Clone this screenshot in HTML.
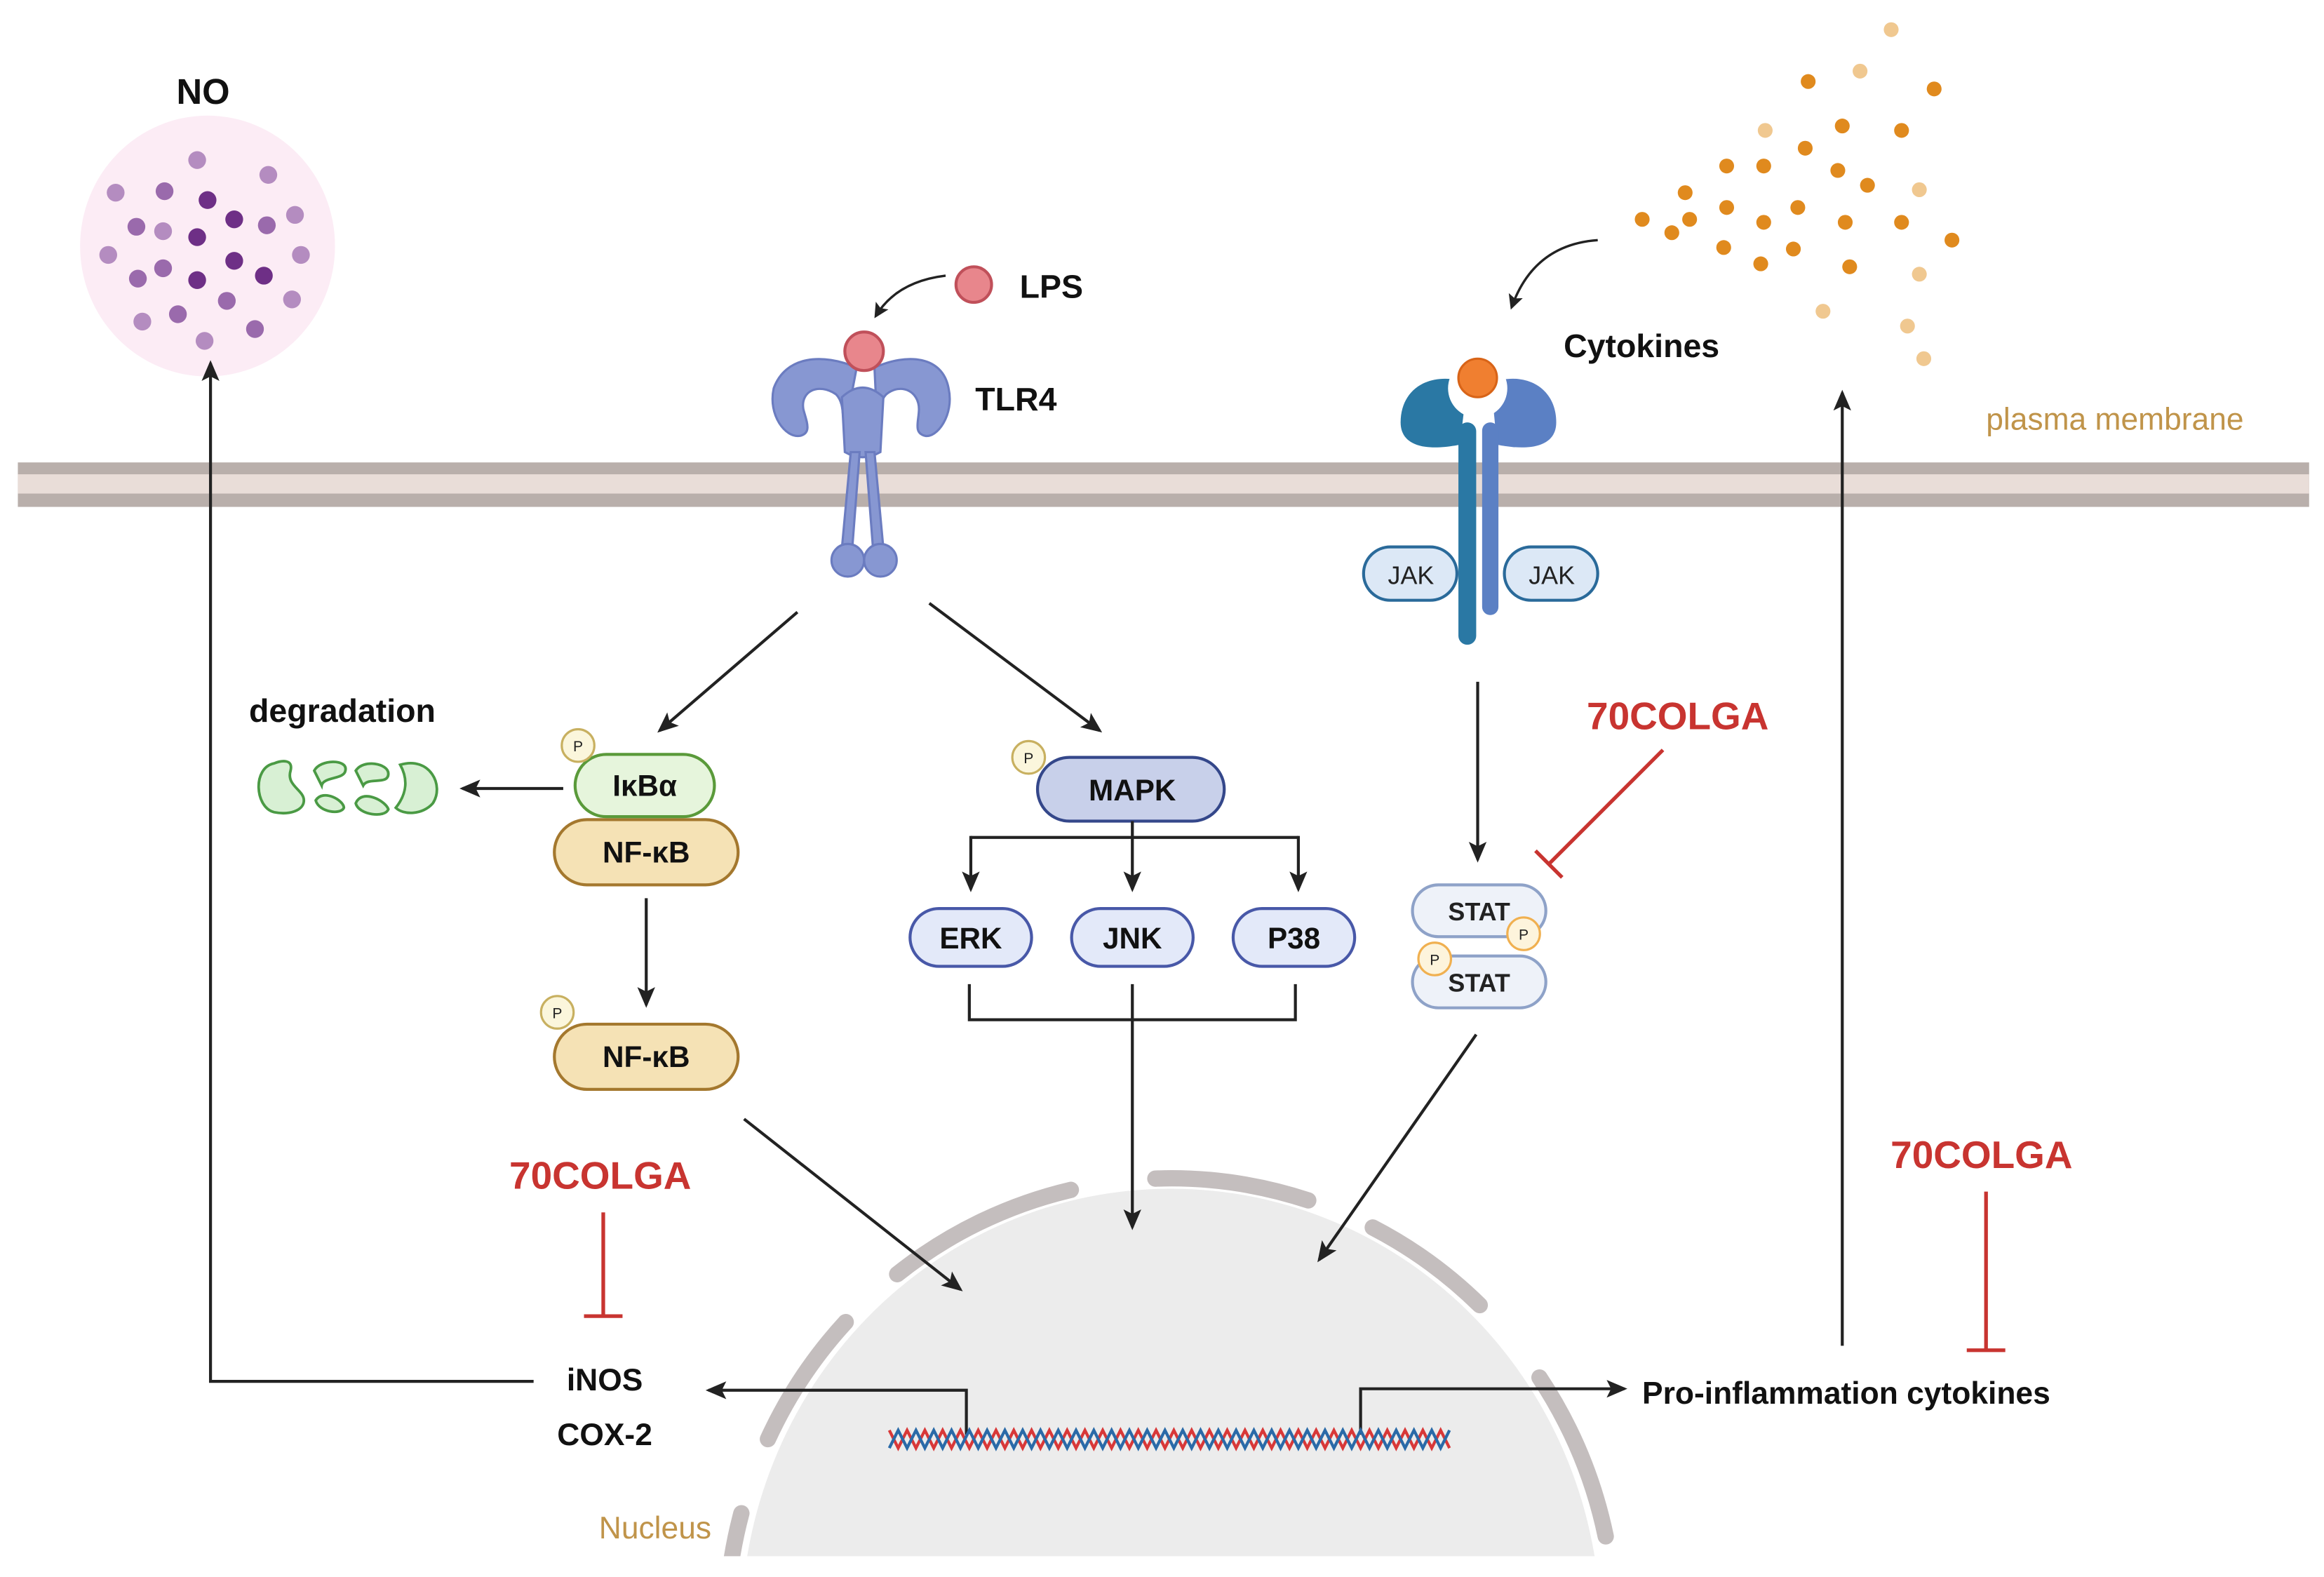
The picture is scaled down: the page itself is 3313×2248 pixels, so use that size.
<!DOCTYPE html>
<html><head><meta charset="utf-8"><style>
html,body{margin:0;padding:0;background:#fff;width:3313px;height:2248px;overflow:hidden;}
svg{display:block;position:absolute;left:0;top:0;}
text{font-family:"Liberation Sans",sans-serif;}
</style></head><body>
<svg width="3313" height="2248" viewBox="0 0 1568 1064" xmlns="http://www.w3.org/2000/svg" overflow="hidden">
<defs>
<marker id="ah" markerWidth="10" markerHeight="10" refX="8" refY="5" orient="auto" markerUnits="userSpaceOnUse"><path d="M0,0 L10,5 L0,10 L2,5 Z" fill="#222"/></marker>
<marker id="ahs" markerWidth="14" markerHeight="14" refX="12" refY="7" orient="auto" markerUnits="userSpaceOnUse"><path d="M0,1 L14,7 L0,13 L3,7 Z" fill="#222"/></marker>
<clipPath id="nc"><rect x="0" y="0" width="1568" height="1050"/></clipPath>
</defs>

<!-- nucleus -->
<g clip-path="url(#nc)">
<ellipse cx="790" cy="1100" rx="290" ry="298" fill="#ececec"/>
<g fill="none" stroke="#c4bebe" stroke-width="11" stroke-linecap="round">
<path d="M722.5,802.8 A300,305 0 0 0 605.3,859.7"/>
<path d="M570.6,892 A300,305 0 0 0 518.1,971"/>
<path d="M500.2,1021 A300,305 0 0 0 490,1089"/>
<path d="M779.5,795.2 A300,305 0 0 1 882.7,809.9"/>
<path d="M926.2,828.2 A300,305 0 0 1 998.4,880.6"/>
<path d="M1038.7,929.4 A300,305 0 0 1 1083.4,1036.6"/>
</g>
</g>

<!-- membrane -->
<rect x="12" y="312" width="1546" height="30" fill="#b9afab"/>
<rect x="12" y="320" width="1546" height="13" fill="#e9ddd8"/>
<text x="1340" y="290" font-size="21" fill="#c0944a">plasma membrane</text>

<!-- NO cloud -->
<text x="137" y="70" font-size="24" font-weight="bold" text-anchor="middle" fill="#111">NO</text>
<ellipse cx="140" cy="166" rx="86" ry="88" fill="#fcecf5"/>
<g fill="#b48cc0">
<circle cx="133" cy="108" r="6"/><circle cx="181" cy="118" r="6"/><circle cx="78" cy="130" r="6"/><circle cx="199" cy="145" r="6"/><circle cx="110" cy="156" r="6"/><circle cx="73" cy="172" r="6"/><circle cx="203" cy="172" r="6"/><circle cx="96" cy="217" r="6"/><circle cx="138" cy="230" r="6"/><circle cx="197" cy="202" r="6"/>
</g>
<g fill="#9a6aac">
<circle cx="111" cy="129" r="6"/><circle cx="92" cy="153" r="6"/><circle cx="180" cy="152" r="6"/><circle cx="110" cy="181" r="6"/><circle cx="93" cy="188" r="6"/><circle cx="153" cy="203" r="6"/><circle cx="120" cy="212" r="6"/><circle cx="172" cy="222" r="6"/>
</g>
<g fill="#6e2f86">
<circle cx="140" cy="135" r="6"/><circle cx="158" cy="148" r="6"/><circle cx="133" cy="160" r="6"/><circle cx="158" cy="176" r="6"/><circle cx="178" cy="186" r="6"/><circle cx="133" cy="189" r="6"/>
</g>

<!-- cytokine dots -->
<g fill="#e08a1e">
<circle cx="1220" cy="55" r="5"/><circle cx="1305" cy="60" r="5"/><circle cx="1243" cy="85" r="5"/><circle cx="1283" cy="88" r="5"/><circle cx="1218" cy="100" r="5"/><circle cx="1165" cy="112" r="5"/><circle cx="1190" cy="112" r="5"/><circle cx="1240" cy="115" r="5"/><circle cx="1260" cy="125" r="5"/><circle cx="1137" cy="130" r="5"/><circle cx="1165" cy="140" r="5"/><circle cx="1213" cy="140" r="5"/><circle cx="1108" cy="148" r="5"/><circle cx="1140" cy="148" r="5"/><circle cx="1190" cy="150" r="5"/><circle cx="1245" cy="150" r="5"/><circle cx="1283" cy="150" r="5"/><circle cx="1128" cy="157" r="5"/><circle cx="1317" cy="162" r="5"/><circle cx="1163" cy="167" r="5"/><circle cx="1210" cy="168" r="5"/><circle cx="1188" cy="178" r="5"/><circle cx="1248" cy="180" r="5"/>
</g>
<g fill="#f0c890">
<circle cx="1276" cy="20" r="5"/><circle cx="1255" cy="48" r="5"/><circle cx="1191" cy="88" r="5"/><circle cx="1295" cy="128" r="5"/><circle cx="1295" cy="185" r="5"/><circle cx="1230" cy="210" r="5"/><circle cx="1287" cy="220" r="5"/><circle cx="1298" cy="242" r="5"/>
</g>

<!-- LPS -->
<circle cx="657" cy="192" r="12" fill="#e8868c" stroke="#c0505a" stroke-width="2"/>
<text x="688" y="201" font-size="22" font-weight="bold" fill="#111">LPS</text>
<path d="M638,186 Q605,190 591,213" fill="none" stroke="#222" stroke-width="1.6" marker-end="url(#ah)"/>

<!-- TLR4 -->
<g fill="#8797d2" stroke="#6b7cc0" stroke-width="1.5">
<path d="M578,248 C555,238 530,240 522,262 C518,280 530,296 540,294 C548,292 544,284 542,276 C540,264 552,258 564,266 C570,272 568,282 570,290 Z"/>
<path d="M590,248 C612,238 636,240 640,262 C644,280 632,296 624,294 C616,292 620,284 620,276 C620,264 608,258 598,266 C592,272 594,282 592,290 Z"/>
<path d="M568,268 Q582,255 596,268 L594,305 Q582,312 570,305 Z"/>
<path d="M574,305 L568,370 L575,370 L580,305 Z"/>
<path d="M584,305 L589,370 L596,370 L590,305 Z"/>
<circle cx="572" cy="378" r="11"/><circle cx="594" cy="378" r="11"/>
</g>
<circle cx="583" cy="237" r="13" fill="#e8868c" stroke="#c0505a" stroke-width="2"/>
<text x="658" y="277" font-size="22" font-weight="bold" fill="#111">TLR4</text>

<!-- Cytokine receptor -->
<path d="M1078,162 Q1035,165 1020,207" fill="none" stroke="#222" stroke-width="1.6" marker-end="url(#ah)"/>
<text x="1055" y="241" font-size="22" font-weight="bold" fill="#111">Cytokines</text>
<path d="M990,258 C965,250 945,262 945,285 C945,300 960,305 985,300 Z" fill="#2a78a4"/>
<rect x="984" y="285" width="12" height="150" rx="6" fill="#2a78a4"/>
<path d="M1006,258 C1030,250 1050,262 1050,285 C1050,300 1035,305 1010,300 Z" fill="#5b80c4"/>
<rect x="1000" y="285" width="11" height="130" rx="5.5" fill="#5b80c4"/>
<circle cx="997" cy="262" r="20" fill="#fff"/>
<circle cx="997" cy="255" r="13" fill="#f07f30" stroke="#d86418" stroke-width="1.5"/>
<rect x="920" y="369" width="63" height="36" rx="18" fill="#dce8f6" stroke="#2a6a9a" stroke-width="2"/>
<text x="952" y="394" font-size="17" text-anchor="middle" fill="#222">JAK</text>
<rect x="1015" y="369" width="63" height="36" rx="18" fill="#dce8f6" stroke="#2a6a9a" stroke-width="2"/>
<text x="1047" y="394" font-size="17" text-anchor="middle" fill="#222">JAK</text>

<!-- arrows from TLR4 -->
<line x1="538" y1="413" x2="445" y2="493" stroke="#222" stroke-width="2" marker-end="url(#ahs)"/>
<line x1="627" y1="407" x2="742" y2="493" stroke="#222" stroke-width="2" marker-end="url(#ahs)"/>

<!-- degradation -->
<text x="168" y="487" font-size="22" font-weight="bold" fill="#111">degradation</text>
<g fill="#d8f0d4" stroke="#4a9a44" stroke-width="1.8">
<path d="M185,515 C170,518 172,545 185,548 C195,550 205,547 205,540 C205,533 193,530 196,520 C198,512 190,513 185,515 Z"/>
<path d="M212,520 C216,512 235,512 233,520 C232,526 218,524 217,530 Z"/>
<path d="M213,540 C218,532 232,540 232,545 C230,550 215,548 213,540 Z"/>
<path d="M240,520 C245,512 262,515 262,522 C262,530 248,524 245,530 Z"/>
<path d="M240,542 C244,532 260,540 262,546 C260,552 242,550 240,542 Z"/>
<path d="M270,516 C290,510 300,530 292,542 C285,550 272,550 267,545 C275,535 275,525 270,516 Z"/>
</g>
<line x1="380" y1="532" x2="312" y2="532" stroke="#222" stroke-width="2" marker-end="url(#ahs)"/>

<!-- IkBa / NF-kB -->
<rect x="374" y="553" width="124" height="44" rx="22" fill="#f5e2b5" stroke="#a4782e" stroke-width="2"/>
<text x="436" y="582" font-size="20" font-weight="bold" text-anchor="middle" fill="#111">NF-κB</text>
<rect x="388" y="509" width="94" height="42" rx="21" fill="#e6f5dc" stroke="#5a9a3a" stroke-width="2"/>
<text x="435" y="537" font-size="20" font-weight="bold" text-anchor="middle" fill="#111">IκBα</text>
<circle cx="390" cy="503" r="11" fill="#fbf6dc" stroke="#c8b060" stroke-width="1.5"/>
<text x="390" y="507" font-size="10" text-anchor="middle" fill="#222">P</text>
<line x1="436" y1="606" x2="436" y2="678" stroke="#222" stroke-width="2" marker-end="url(#ahs)"/>
<rect x="374" y="691" width="124" height="44" rx="22" fill="#f5e2b5" stroke="#a4782e" stroke-width="2"/>
<text x="436" y="720" font-size="20" font-weight="bold" text-anchor="middle" fill="#111">NF-κB</text>
<circle cx="376" cy="683" r="11" fill="#fbf6dc" stroke="#c8b060" stroke-width="1.5"/>
<text x="376" y="687" font-size="10" text-anchor="middle" fill="#222">P</text>

<!-- MAPK -->
<rect x="700" y="511" width="126" height="43" rx="21.5" fill="#c8d0ea" stroke="#34478a" stroke-width="2"/>
<text x="764" y="540" font-size="20" font-weight="bold" text-anchor="middle" fill="#111">MAPK</text>
<circle cx="694" cy="511" r="11" fill="#fbf6dc" stroke="#c8b060" stroke-width="1.5"/>
<text x="694" y="515" font-size="10" text-anchor="middle" fill="#222">P</text>
<path d="M764,554 L764,565 M655,565 L876,565" stroke="#222" stroke-width="2" fill="none"/>
<line x1="655" y1="564" x2="655" y2="600" stroke="#222" stroke-width="2" marker-end="url(#ahs)"/>
<line x1="764" y1="564" x2="764" y2="600" stroke="#222" stroke-width="2" marker-end="url(#ahs)"/>
<line x1="876" y1="564" x2="876" y2="600" stroke="#222" stroke-width="2" marker-end="url(#ahs)"/>
<g fill="#e3e9f9" stroke="#4858a8" stroke-width="2">
<rect x="614" y="613" width="82" height="39" rx="19.5"/>
<rect x="723" y="613" width="82" height="39" rx="19.5"/>
<rect x="832" y="613" width="82" height="39" rx="19.5"/>
</g>
<g font-size="20" font-weight="bold" text-anchor="middle" fill="#111">
<text x="655" y="640">ERK</text><text x="764" y="640">JNK</text><text x="873" y="640">P38</text>
</g>
<path d="M654,664 L654,688 L874,688 L874,664" stroke="#222" stroke-width="2" fill="none"/>
<line x1="764" y1="664" x2="764" y2="828" stroke="#222" stroke-width="2" marker-end="url(#ahs)"/>

<!-- to nucleus arrows -->
<line x1="502" y1="755" x2="648" y2="870" stroke="#222" stroke-width="2" marker-end="url(#ahs)"/>
<line x1="996" y1="698" x2="890" y2="850" stroke="#222" stroke-width="2" marker-end="url(#ahs)"/>
<line x1="997" y1="460" x2="997" y2="580" stroke="#222" stroke-width="2" marker-end="url(#ahs)"/>

<!-- STAT -->
<rect x="953" y="597" width="90" height="35" rx="17.5" fill="#eef2f9" stroke="#8ea2c8" stroke-width="2"/>
<text x="998" y="621" font-size="17" font-weight="bold" text-anchor="middle" fill="#222">STAT</text>
<rect x="953" y="645" width="90" height="35" rx="17.5" fill="#eef2f9" stroke="#8ea2c8" stroke-width="2"/>
<text x="998" y="669" font-size="17" font-weight="bold" text-anchor="middle" fill="#222">STAT</text>
<circle cx="1028" cy="630" r="11" fill="#fdf4dc" stroke="#f0b050" stroke-width="1.5"/>
<text x="1028" y="634" font-size="10" text-anchor="middle" fill="#222">P</text>
<circle cx="968" cy="647" r="11" fill="#fdf4dc" stroke="#f0b050" stroke-width="1.5"/>
<text x="968" y="651" font-size="10" text-anchor="middle" fill="#222">P</text>

<!-- 70COLGA inhibitors -->
<g fill="#c83430" font-size="26" font-weight="bold" text-anchor="middle">
<text x="1132" y="492">70COLGA</text>
<text x="405" y="802">70COLGA</text>
<text x="1337" y="788">70COLGA</text>
</g>
<g stroke="#c83430" stroke-width="2.5" fill="none">
<path d="M1122,506 L1045,583 M1036,574 L1054,592"/>
<path d="M407,818 L407,888 M394,888 L420,888"/>
<path d="M1340,804 L1340,911 M1327,911 L1353,911"/>
</g>

<!-- outputs -->
<text x="408" y="938" font-size="21" font-weight="bold" text-anchor="middle" fill="#111">iNOS</text>
<text x="408" y="975" font-size="21" font-weight="bold" text-anchor="middle" fill="#111">COX-2</text>
<path d="M360,932 L142,932 L142,245" stroke="#222" stroke-width="2" fill="none" marker-end="url(#ahs)"/>
<path d="M652,968 L652,938 L478,938" stroke="#222" stroke-width="2" fill="none" marker-end="url(#ahs)"/>
<path d="M918,968 L918,937 L1096,937" stroke="#222" stroke-width="2" fill="none" marker-end="url(#ahs)"/>
<text x="1108" y="947" font-size="21" font-weight="bold" fill="#111">Pro-inflammation cytokines</text>
<line x1="1243" y1="908" x2="1243" y2="265" stroke="#222" stroke-width="2" marker-end="url(#ahs)"/>

<!-- DNA -->
<path d="M600,965 l6,12 l6,-12 l6,12 l6,-12 l6,12 l6,-12 l6,12 l6,-12 l6,12 l6,-12 l6,12 l6,-12 l6,12 l6,-12 l6,12 l6,-12 l6,12 l6,-12 l6,12 l6,-12 l6,12 l6,-12 l6,12 l6,-12 l6,12 l6,-12 l6,12 l6,-12 l6,12 l6,-12 l6,12 l6,-12 l6,12 l6,-12 l6,12 l6,-12 l6,12 l6,-12 l6,12 l6,-12 l6,12 l6,-12 l6,12 l6,-12 l6,12 l6,-12 l6,12 l6,-12 l6,12 l6,-12 l6,12 l6,-12 l6,12 l6,-12 l6,12 l6,-12 l6,12 l6,-12 l6,12 l6,-12 l6,12 l6,-12 l6,12" stroke="#d83838" stroke-width="2" fill="none"/>
<path d="M600,977 l6,-12 l6,12 l6,-12 l6,12 l6,-12 l6,12 l6,-12 l6,12 l6,-12 l6,12 l6,-12 l6,12 l6,-12 l6,12 l6,-12 l6,12 l6,-12 l6,12 l6,-12 l6,12 l6,-12 l6,12 l6,-12 l6,12 l6,-12 l6,12 l6,-12 l6,12 l6,-12 l6,12 l6,-12 l6,12 l6,-12 l6,12 l6,-12 l6,12 l6,-12 l6,12 l6,-12 l6,12 l6,-12 l6,12 l6,-12 l6,12 l6,-12 l6,12 l6,-12 l6,12 l6,-12 l6,12 l6,-12 l6,12 l6,-12 l6,12 l6,-12 l6,12 l6,-12 l6,12 l6,-12 l6,12 l6,-12 l6,12 l6,-12" stroke="#2a6aa8" stroke-width="2" fill="none"/>

<text x="442" y="1038" font-size="21" text-anchor="middle" fill="#c0944a">Nucleus</text>
</svg>
</body></html>
